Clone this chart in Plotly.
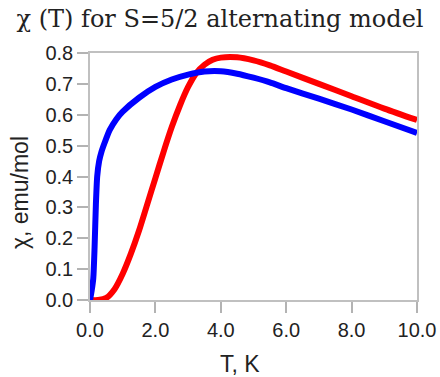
import plotly.graph_objects as go

# Temperature (K) and susceptibility (emu/mol)
t_red = [0.0, 0.25, 0.5, 0.75, 1.0, 1.25, 1.5, 1.75, 2.0, 2.25, 2.5, 2.75, 3.0, 3.25, 3.5, 3.75, 4.0, 4.5, 5.0, 5.5, 6.0, 7.0, 8.0, 9.0, 10.0]
chi_red = [0.0, 0.0, 0.007, 0.035, 0.085, 0.15, 0.225, 0.31, 0.395, 0.48, 0.56, 0.63, 0.69, 0.735, 0.762, 0.778, 0.785, 0.786, 0.776, 0.76, 0.74, 0.70, 0.66, 0.62, 0.583]

t_blue = [0.0, 0.05, 0.1, 0.14, 0.18, 0.22, 0.28, 0.35, 0.45, 0.6, 0.8, 1.0, 1.5, 2.0, 2.5, 3.0, 3.5, 4.0, 4.5, 5.0, 5.5, 6.0, 7.0, 8.0, 9.0, 10.0]
chi_blue = [0.0, 0.03, 0.07, 0.17, 0.31, 0.40, 0.45, 0.48, 0.51, 0.55, 0.585, 0.61, 0.655, 0.69, 0.714, 0.73, 0.74, 0.741, 0.733, 0.72, 0.705, 0.686, 0.652, 0.617, 0.579, 0.541]

x_ticks = [0, 2, 4, 6, 8, 10]
y_ticks = [0.0, 0.1, 0.2, 0.3, 0.4, 0.5, 0.6, 0.7, 0.8]

fig = go.Figure()
fig.add_trace(go.Scatter(x=t_red, y=chi_red, mode="lines",
                         line=dict(color="#ff0000", width=6, shape="spline", smoothing=0.8)))
fig.add_trace(go.Scatter(x=t_blue, y=chi_blue, mode="lines",
                         line=dict(color="#0000ff", width=6, shape="spline", smoothing=0.6)))

axis_common = dict(showgrid=False, zeroline=False, showline=True, mirror=True,
                   linecolor="#c0c0c0", linewidth=1.5, ticks="outside", ticklen=11,
                   tickcolor="#b3b3b3", tickwidth=1.5, automargin=False,
                   tickfont=dict(family="Liberation Sans", size=20, color="#222222"))

title_font = dict(family="Liberation Sans", size=23, color="#222222")

fig.update_layout(
    width=440, height=377,
    margin=dict(l=90, r=23, t=53, b=77),
    paper_bgcolor="white", plot_bgcolor="white",
    showlegend=False,
    title=dict(text="χ (T) for S=5/2 alternating model", x=0.5, xanchor="center",
               xref="container", y=1 - 10 / 377, yanchor="top", yref="container",
               font=dict(family="DejaVu Serif", size=24, color="#222222")),
    xaxis=dict(range=[0, 10], tickvals=x_ticks, ticktext=[f"{v:.1f}" for v in x_ticks],
               **axis_common),
    yaxis=dict(range=[0, 0.8], tickvals=y_ticks, ticktext=[f"{v:.1f}" for v in y_ticks],
               **axis_common),
    annotations=[
        dict(text="T, K", xref="paper", yref="paper", x=0.46, y=-0.2611,
             xanchor="center", yanchor="middle", showarrow=False, borderpad=0, font=title_font),
        dict(text="χ, emu/mol", xref="paper", yref="paper", x=-0.2156, y=0.435,
             xanchor="center", yanchor="middle", textangle=-90, showarrow=False, borderpad=0,
             font=title_font),
    ],
)

fig.write_html("out.html")
